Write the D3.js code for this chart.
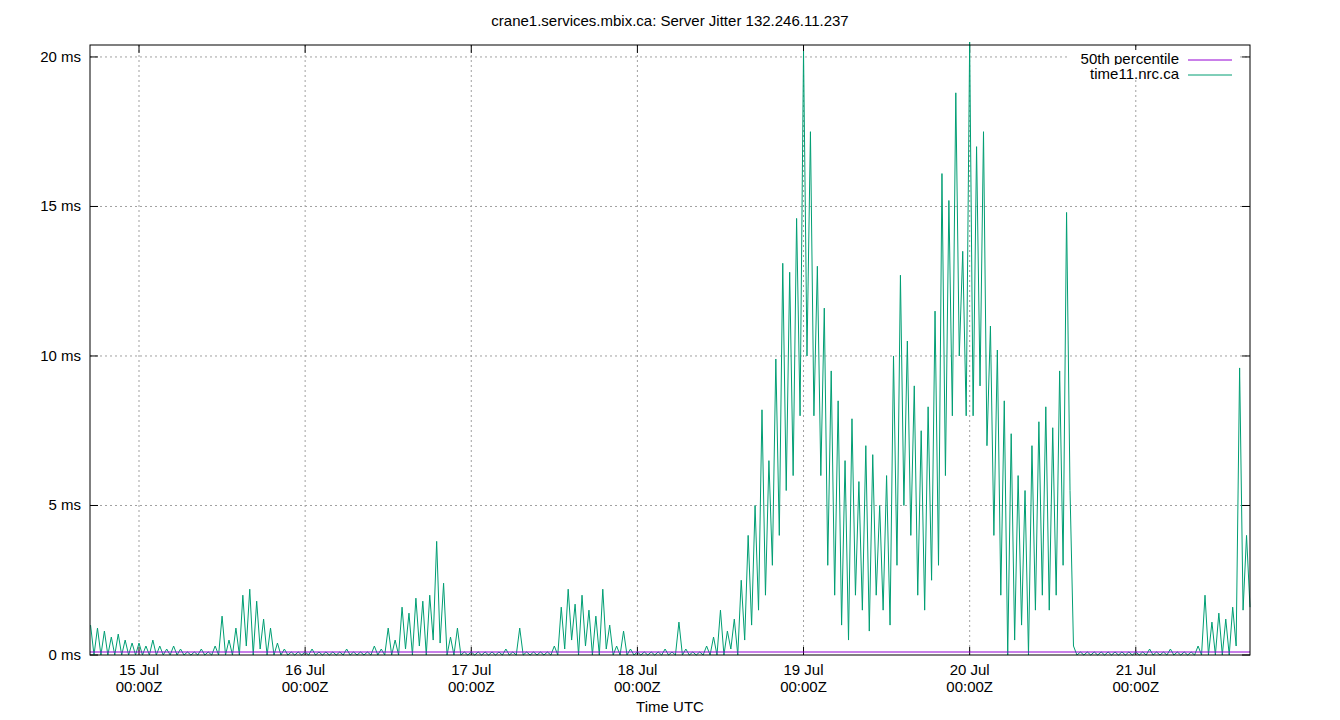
<!DOCTYPE html>
<html><head><meta charset="utf-8">
<script src="https://cdn.jsdelivr.net/npm/d3@7"></script>
<style>body{margin:0;background:#fff}text{font-family:"Liberation Sans",Arial,sans-serif}</style>
</head><body><svg id="c" width="1340" height="720"></svg>
<script>
// hours relative to 15 Jul 00:00Z, one peak and one trough per hour starting at hour -7
var startHour = -7;
var peaks = [1.0,0.9,0.8,0.6,0.7,0.5,0.4,
  0.4,0.3,0.5,0.3,0.2,0.3,0.2,0.1,0.1,0.2,0.1,0.3,
  1.3,0.5,0.9,2.0,2.2,1.8,1.2,0.9,0.4,0.2,0.1,0.1,
  0.1,0.2,0.1,0.1,0.1,0.1,0.2,0.1,0.1,0.1,0.3,0.2,
  0.9,0.5,1.6,1.4,1.9,1.8,2.0,3.8,2.4,0.6,0.9,0.1,
  0.1,0.1,0.1,0.1,0.1,0.2,0.1,0.9,0.1,0.1,0.1,0.1,
  0.3,1.6,2.2,1.7,2.0,1.5,1.3,2.2,1.0,0.3,0.8,0.2,
  0.1,0.1,0.1,0.1,0.2,0.1,1.1,0.2,0.1,0.1,0.3,0.6,
  1.5,0.8,1.2,2.5,4.0,5.0,8.2,6.5,9.9,13.1,12.8,14.6,
  20.2,17.5,13.0,11.6,9.5,8.5,6.5,7.9,5.8,7.0,6.7,5.0,
  6.0,10.0,12.7,10.5,9.0,7.5,8.3,11.5,16.1,15.2,18.8,13.5,
  20.5,17.0,17.5,11.0,10.2,8.5,7.4,6.0,5.5,7.0,7.8,8.3,
  7.6,9.5,14.8,0.3,0.1,0.1,0.1,0.1,0.1,0.1,0.1,0.1,
  0.1,0.1,0.2,0.1,0.1,0.2,0.1,0.1,0.1,0.3,2.0,1.1,
  1.4,1.2,1.6,9.6,4.0];
var troughs = [0,0,0,0,0,0,0,
  0,0,0,0,0,0,0,0,0,0,0,0,
  0,0,0,0.3,0,0.2,0,0,0,0,0,0,
  0,0,0,0,0,0,0,0,0,0,0,0,
  0,0,0.2,0,0.3,0,0.5,0.4,0,0,0,0,
  0,0,0,0,0,0,0,0,0,0,0,0,
  0,0.2,0.5,0,0.3,0,0,0.2,0,0,0,0,
  0,0,0,0,0,0,0,0,0,0,0,0,
  0,0.2,0,0.5,1.0,1.5,2.0,3.0,4.0,5.5,6.0,8.0,
  10,8,6,3,2,1,0.5,2,1.5,0.8,2,1.5,
  1,3,5,4,2,1.5,2.5,3,6,8,10,8,
  8,9,7,4,2,0,0.5,1,0,1.5,2,1.5,
  2,3,5.5,0,0,0,0,0,0,0,0,0,
  0,0,0,0,0,0,0,0,0,0,0,0,
  0,0,0.3,1.5,1.6];
var median = 0.1;
var yTicks = [0, 5, 10, 15, 20];
var dayLabels = ['15 Jul', '16 Jul', '17 Jul', '18 Jul', '19 Jul', '20 Jul', '21 Jul'];

var series = [];
peaks.forEach(function(p, i) {
	series.push({h: startHour + i, v: p});
	series.push({h: startHour + i + 0.5, v: troughs[i]});
});

var svg = d3.select('#c');
var L = 90, R = 1250, T = 45, B = 655;
var x = d3.scaleLinear().domain([-7.08, 160.5]).range([L, R]);
var y = d3.scaleLinear().domain([0, 20.4]).range([B, T]);
var dayHours = dayLabels.map(function(d, i) { return i * 24; });

// grid
svg.selectAll('line.gx').data(dayHours).enter().append('line')
	.attr('x1', x).attr('x2', x).attr('y1', T).attr('y2', B)
	.attr('stroke', '#a0a0a0').attr('stroke-dasharray', '2,3');
svg.selectAll('line.gy').data(yTicks.slice(1)).enter().append('line')
	.attr('x1', L).attr('x2', R).attr('y1', y).attr('y2', y)
	.attr('stroke', '#a0a0a0').attr('stroke-dasharray', '2,3');

// ticks
svg.selectAll('line.ty').data(yTicks).enter().append('line')
	.attr('x1', L).attr('x2', L + 8).attr('y1', y).attr('y2', y).attr('stroke', '#000');
svg.selectAll('line.ty2').data(yTicks).enter().append('line')
	.attr('x1', R).attr('x2', R - 8).attr('y1', y).attr('y2', y).attr('stroke', '#000');
svg.selectAll('line.tx').data(dayHours).enter().append('line')
	.attr('x1', x).attr('x2', x).attr('y1', B).attr('y2', B - 8).attr('stroke', '#000');
svg.selectAll('line.tx2').data(dayHours).enter().append('line')
	.attr('x1', x).attr('x2', x).attr('y1', T).attr('y2', T + 8).attr('stroke', '#000');

svg.selectAll('text.yl').data(yTicks).enter().append('text')
	.attr('x', L - 9).attr('y', function(d) { return y(d) + 5; })
	.attr('text-anchor', 'end').attr('font-size', 15).text(function(d) { return d + ' ms'; });
var xl = svg.selectAll('text.xl').data(dayLabels).enter().append('text')
	.attr('text-anchor', 'middle').attr('font-size', 15);
xl.append('tspan').attr('x', function(d, i) { return x(dayHours[i]); }).attr('y', B + 20).text(function(d) { return d; });
xl.append('tspan').attr('x', function(d, i) { return x(dayHours[i]); }).attr('y', B + 37).text('00:00Z');

// data
svg.append('path').datum(series)
	.attr('d', d3.line().x(function(d) { return x(d.h); }).y(function(d) { return y(d.v); }))
	.attr('fill', 'none').attr('stroke', '#009e73').attr('stroke-width', 1);
svg.append('line').attr('x1', L).attr('x2', R).attr('y1', y(median)).attr('y2', y(median))
	.attr('stroke', '#9400d3').attr('stroke-width', 1.2);

svg.append('rect').attr('x', L).attr('y', T).attr('width', R - L).attr('height', B - T)
	.attr('fill', 'none').attr('stroke', '#000');

// titles
svg.append('text').attr('x', 670).attr('y', 26).attr('text-anchor', 'middle').attr('font-size', 15)
	.text('crane1.services.mbix.ca: Server Jitter 132.246.11.237');
svg.append('text').attr('x', 670).attr('y', 712).attr('text-anchor', 'middle').attr('font-size', 15)
	.text('Time UTC');

// legend
var legend = [{name: '50th percentile', color: '#9400d3'}, {name: 'time11.nrc.ca', color: '#009e73'}];
var lg = svg.selectAll('g.lg').data(legend).enter().append('g')
	.attr('transform', function(d, i) { return 'translate(0,' + (59 + i * 15) + ')'; });
lg.append('rect').attr('x', 1070).attr('y', -9).attr('width', 170).attr('height', 15).attr('fill', '#fff');
lg.append('text').attr('x', 1179).attr('y', 5).attr('text-anchor', 'end').attr('font-size', 15).text(function(d) { return d.name; });
lg.append('line').attr('x1', 1188).attr('x2', 1232).attr('y1', 1).attr('y2', 1).attr('stroke', function(d) { return d.color; });
</script></body></html>
